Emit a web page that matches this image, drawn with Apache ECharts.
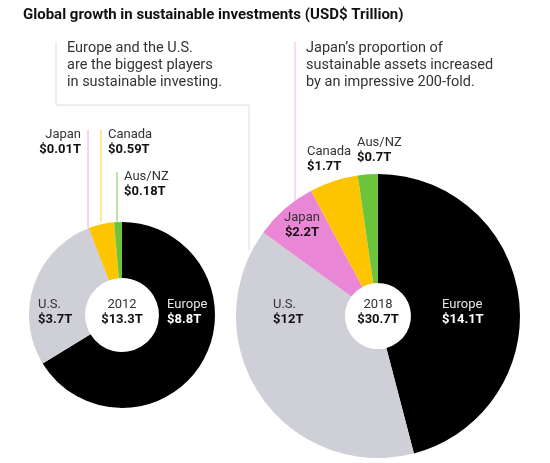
<!DOCTYPE html>
<html>
<head>
<meta charset="utf-8">
<script src="https://cdn.jsdelivr.net/npm/echarts@6/dist/echarts.min.js"></script>
<style>
html,body{margin:0;padding:0;background:#fff;}
#chart{width:550px;height:463px;}
</style>
</head>
<body>
<div id="chart"></div>
<script>
// ---- data ----
var categories = ['Europe', 'U.S.', 'Japan', 'Canada', 'Aus/NZ'];
var values2012 = [8.8, 3.7, 0.01, 0.59, 0.18];
var values2018 = [14.1, 12, 2.2, 1.7, 0.7];
var years = ['2012', '2018'];
var totals = [13.3, 30.7];
var title = 'Global growth in sustainable investments (USD$ Trillion)';
var note2012 = ['Europe and the U.S.', 'are the biggest players', 'in sustainable investing.'];
var note2018 = ['Japan\u2019s proportion of', 'sustainable assets increased', 'by an impressive 200-fold.'];

// ---- styles ----
var colors = ['#000000', '#cfcfd7', '#e986d6', '#fdc500', '#6cc43c'];
var FONT = 'Roboto, "Noto Sans", sans-serif';
var chart = echarts.init(document.getElementById('chart'), null, {renderer: 'canvas'});

function fmt(v) { return '$' + v + 'T'; }

function pieSeries(vals, center, radius) {
  return {
    type: 'pie', center: center, radius: radius, startAngle: 90, clockwise: true, z: 1,
    silent: true, label: {show: false}, labelLine: {show: false},
    emphasis: {disabled: true}, avoidLabelOverlap: false,
    itemStyle: {borderWidth: 0},
    data: categories.map(function (c, i) {
      return {name: c, value: vals[i], itemStyle: {color: colors[i]}};
    })
  };
}

var g = [];
function txt(x, y, s, opt) {
  opt = opt || {};
  g.push({type: 'text', x: x, y: y, z: 100, silent: true, style: {
    text: s, fill: opt.color || '#222', font: (opt.bold ? 'bold ' : '') + (opt.size || 13) + 'px ' + FONT,
    textAlign: opt.align || 'left', textVerticalAlign: 'middle'
  }});
}
function pair(x, y, name, val, opt) {
  opt = opt || {};
  txt(x, y, name, {color: opt.nameColor || '#333', align: opt.align});
  txt(x, y + 15, val, {color: opt.valColor || '#111', bold: true, align: opt.align});
}
function line(points, color) {
  g.push({type: 'polyline', z: 0, silent: true, shape: {points: points}, style: {stroke: color, lineWidth: 1, fill: null}});
}

// title
txt(23, 15, title, {bold: true, size: 15, color: '#111'});

// annotation lines
line([[56, 42], [56, 105], [249, 105], [249, 250]], '#dcdcdc');
line([[295, 42], [295, 205]], '#f2b6ea');
note2012.forEach(function (s, i) { txt(67, 48 + i * 17, s, {size: 14.5, color: '#333'}); });
note2018.forEach(function (s, i) { txt(306, 48 + i * 17, s, {size: 14.5, color: '#333'}); });

// leader lines (2012)
line([[88, 130], [88, 228]], '#eeaae4');
line([[101, 130], [101, 222]], '#fdd030');
line([[117, 172], [117, 222]], '#7cc850');

// labels 2012
pair(81, 135, categories[2], fmt(values2012[2]), {align: 'right'});
pair(108, 135, categories[3], fmt(values2012[3]));
pair(124, 177, categories[4], fmt(values2012[4]));
pair(38, 305, categories[1], fmt(values2012[1]));
pair(122, 305, years[0], fmt(totals[0]), {align: 'center'});
pair(167, 305, categories[0], fmt(values2012[0]), {nameColor: '#e6e6e6', valColor: '#ffffff'});

// labels 2018
pair(302, 218, categories[2], fmt(values2018[2]), {align: 'center'});
pair(307, 152, categories[3], fmt(values2018[3]));
pair(357, 143, categories[4], fmt(values2018[4]));
pair(273, 305, categories[1], fmt(values2018[1]));
pair(378, 305, years[1], fmt(totals[1]), {align: 'center'});
pair(442, 305, categories[0], fmt(values2018[0]), {nameColor: '#e6e6e6', valColor: '#ffffff'});

chart.setOption({
  animation: false,
  backgroundColor: '#ffffff',
  series: [
    pieSeries(values2012, [122, 315], [37, 93]),
    pieSeries(values2018, [378, 316], [33, 142])
  ],
  graphic: {elements: g}
});
</script>
</body>
</html>
